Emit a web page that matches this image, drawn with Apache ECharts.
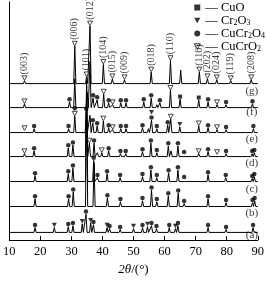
<!DOCTYPE html>
<html><head><meta charset="utf-8">
<script src="https://cdn.jsdelivr.net/npm/echarts@6/dist/echarts.min.js"></script>
<style>html,body{margin:0;padding:0;background:#fff}#c{width:267px;height:281px}</style>
</head><body><div id="c"></div>
<script>
// ---- data ----
const traceNames = ['(a)','(b)','(c)','(d)','(e)','(f)','(g)'];
const traceOffsets = [8, 35, 61, 87, 112, 138, 163];
const traceLabelLevels = [5, 28, 53, 80, 105, 133, 155];
const xTicks = [10, 20, 30, 40, 50, 60, 70, 80, 90];

// peaks: [2theta, intensity above the trace baseline]
const peaksA = [[18.3,5],[24.5,5],[29.0,6],[30.5,7],[33.5,9],[34.7,19],[36.2,10],[37.1,8],[41.5,5],[42.3,4],[45.7,3],[50.0,4],[52.9,5],[54.5,6],[55.8,7],[57.4,4],[61.5,5],[63.5,4],[64.3,7],[74.0,5],[79.8,3],[88.5,5]];
const peaksB = [[18.3,8],[29.1,8],[30.6,15],[34.9,115],[37.3,45],[41.6,9],[45.8,5],[52.9,6],[55.8,17],[57.5,5],[61.2,11],[64.4,14],[66.3,3],[74.0,8],[79.8,4],[88.3,4],[89.0,6]];
const peaksC = [[18.3,6],[29.0,8],[30.5,14],[34.9,100],[37.2,22],[38.4,4],[41.5,8],[45.7,4],[52.9,5],[55.6,12],[57.5,4],[61.3,9],[64.3,12],[66.3,2],[74.0,7],[79.7,4],[88.2,3],[88.9,5]];
const peaksD = [[14.9,3],[18.0,6],[29.0,9],[30.5,12],[34.9,80],[35.8,14],[37.3,14],[38.4,4],[39.8,4],[42.0,6],[45.8,3],[47.5,3],[52.9,5],[55.6,14],[57.5,4],[61.2,11],[62.1,6],[64.3,11],[66.3,2],[71.0,3],[74.0,5],[76.9,2],[79.8,3],[88.2,3],[88.9,4]];
const peaksE = [[14.9,2],[18.0,4],[29.1,4],[31.1,17],[34.8,22],[36.0,18],[36.9,10],[38.3,7],[40.3,12],[42.0,5],[43.3,3],[45.9,4],[47.6,4],[52.9,5],[54.8,4],[55.8,13],[57.5,4],[61.0,8],[62.0,14],[64.9,6],[71.0,7],[74.0,5],[76.9,3],[79.8,3],[88.6,4]];
const peaksF = [[14.9,4],[29.4,6],[31.1,30],[35.1,16],[36.0,48],[37.0,10],[38.3,8],[40.4,14],[42.0,5],[43.3,3],[45.9,5],[47.6,5],[53.3,6],[55.7,10],[57.5,3],[58.5,5],[61.9,18],[65.0,9],[71.0,8],[74.0,6],[76.9,3],[79.8,3],[88.3,4]];
const peaksG = [[14.9,3],[31.1,39],[34.9,7],[36.0,60],[40.3,20],[43.2,5],[47.1,4],[55.7,12],[61.9,24],[65.2,14],[71.2,12],[73.8,5],[76.8,4],[81.3,3],[87.9,4]];

// phase markers: 2theta positions per trace (a..g)
const delafMarks = [
  [], [], [], [14.9,35.8,39.8,71.0,76.9],
  [14.9,31.1,40.3,43.3,62.0,71.0,76.9],
  [14.9,40.4,43.3,61.9,76.9],
  [14.9,31.1,34.9,36.0,40.3,43.2,47.1,55.7,61.9,71.2,73.8,76.8,81.3,87.9]
];
const hklLabels = ['(003)','(006)','(101)','(012)','(104)','(015)','(009)','(018)','(110)','(116)','(202)','(024)','(119)','(208)'];
const spinelMarks = [
  [18.3,29.0,30.5,34.7,37.1,42.3,45.7,52.9,55.8,57.4,61.5,64.3,74.0,79.8,88.5],
  [18.3,29.1,30.6,41.6,45.8,52.9,55.8,57.5,61.2,64.4,66.3,74.0,79.8,88.3,89.0],
  [18.3,29.0,30.5,37.2,38.4,41.5,45.7,52.9,55.6,57.5,61.3,64.3,66.3,74.0,79.7,88.2,88.9],
  [18.0,29.0,30.5,37.3,42.0,45.8,47.5,52.9,55.6,57.5,61.2,64.3,66.3,74.0,79.8,88.2,88.9],
  [18.0,29.1,31.1,34.8,36.9,38.3,42.0,45.9,47.6,52.9,55.8,57.5,61.0,74.0,79.8,88.6],
  [29.4,37.0,38.3,42.0,45.9,47.6,53.3,55.7,58.5,74.0,79.8,88.3],
  []
];
const cr2o3Marks = [
  [24.5,33.5,36.2,41.5,50.0,54.5,63.5], [], [], [],
  [55.8,64.9], [], []
];
const cuoMarks = [[], [], [], [], [], [65.0,71.0], []];

// ---- build ----
const allPeaks = [peaksA, peaksB, peaksC, peaksD, peaksE, peaksF, peaksG];
const HALF = 0.35;
const FONT = "'Liberation Serif','DejaVu Serif',serif";
function lineData(peaks, base) {
  const d = [[10, base]];
  peaks.forEach(([t, h]) => { d.push([t - HALF, base], [t, base + h], [t + HALF, base]); });
  d.push([90, base]);
  return d;
}
function nearestPeak(i, t) {
  let best = null, bd = 1e9;
  allPeaks[i].forEach(p => { const dd = Math.abs(p[0] - t); if (dd < bd) { bd = dd; best = p; } });
  return best;
}
const stackCount = {};
function markData(marks, size, withLabels) {
  const out = [];
  marks.forEach((list, i) => {
    list.forEach((t, j) => {
      const [pt, h] = nearestPeak(i, t);
      const key = i + '_' + pt;
      const lvl = stackCount[key] || 0;
      stackCount[key] = lvl + 1;
      const y = traceOffsets[i] + h + size / 2 + 0.5 + lvl * (size + 1);
      const item = { value: [pt, y] };
      if (withLabels && i === 6) {
        item.label = { show: true, formatter: hklLabels[j], position: 'top', distance: 1, rotate: 90,
          align: 'left', verticalAlign: 'middle', fontFamily: FONT, fontSize: 10, color: '#000' };
      }
      out.push(item);
    });
  });
  return out;
}
const downTri = 'path://M0,0 L10,0 L5,9 Z';
const series = [];
allPeaks.forEach((p, i) => {
  series.push({ type: 'line', name: traceNames[i], data: lineData(p, traceOffsets[i]), symbol: 'none',
    lineStyle: { color: '#000', width: 1 }, silent: true, z: 2, animation: false });
});
series.push({ type: 'scatter', name: 'CuCrO2', symbol: downTri, symbolSize: [5, 4.5],
  itemStyle: { color: '#fff', borderColor: '#000', borderWidth: 0.9 }, data: markData(delafMarks, 4.5, true), z: 4, animation: false });
series.push({ type: 'scatter', name: 'CuCr2O4', symbol: 'circle', symbolSize: 4.5,
  itemStyle: { color: '#000' }, data: markData(spinelMarks, 4.5, false), z: 4, animation: false });
series.push({ type: 'scatter', name: 'Cr2O3', symbol: downTri, symbolSize: [5, 4.5],
  itemStyle: { color: '#000' }, data: markData(cr2o3Marks, 4.5, false), z: 4, animation: false });
series.push({ type: 'scatter', name: 'CuO', symbol: 'rect', symbolSize: 4,
  itemStyle: { color: '#000' }, data: markData(cuoMarks, 4, false), z: 4, animation: false });
series.push({ type: 'scatter', name: 'traceLabels', symbolSize: 0, silent: true, animation: false,
  data: traceLabelLevels.map((v, i) => [88.1, v]),
  label: { show: true, position: 'inside', formatter: p => traceNames[p.dataIndex], fontFamily: FONT, fontSize: 11, color: '#000' } });

const legendTexts = {
  'CuO': '— CuO',
  'Cr2O3': '— Cr{s|2}O{s|3}',
  'CuCr2O4': '— CuCr{s|2}O{s|4}',
  'CuCrO2': '— CuCrO{s|2}'
};

const chart = echarts.init(document.getElementById('c'), null, { renderer: 'canvas' });
chart.setOption({
  animation: false,
  backgroundColor: '#fff',
  grid: { left: 5, right: 4, top: 2, bottom: 31 },
  legend: {
    orient: 'vertical', right: 2, top: 1, padding: 0, itemGap: 0, itemWidth: 6, itemHeight: 6,
    selectedMode: false,
    data: [
      { name: 'CuO', icon: 'rect' },
      { name: 'Cr2O3', icon: downTri },
      { name: 'CuCr2O4', icon: 'circle' },
      { name: 'CuCrO2', icon: downTri, itemStyle: { color: '#fff', borderColor: '#000', borderWidth: 1 } }
    ],
    formatter: n => legendTexts[n],
    textStyle: { fontFamily: FONT, fontSize: 12.5, color: '#000', lineHeight: 12.3,
      rich: { s: { fontFamily: FONT, fontSize: 8, lineHeight: 12.3, padding: [5, 0, 0, 0] } } }
  },
  xAxis: {
    type: 'value', min: xTicks[0], max: xTicks[xTicks.length - 1], interval: 10,
    name: '{i|2θ}/(°)', nameLocation: 'middle', nameGap: 21,
    nameTextStyle: { fontFamily: FONT, fontSize: 13, color: '#000', rich: { i: { fontFamily: FONT, fontSize: 13, fontStyle: 'italic' } } },
    axisLine: { lineStyle: { color: '#000', width: 1 } },
    axisTick: { inside: true, length: 4, lineStyle: { color: '#000' } },
    axisLabel: { fontFamily: FONT, fontSize: 12.5, color: '#000', margin: 5 },
    splitLine: { show: false }
  },
  yAxis: {
    type: 'value', min: 0, max: 248,
    axisLine: { show: true, lineStyle: { color: '#000', width: 1 } },
    axisTick: { show: false }, axisLabel: { show: false }, splitLine: { show: false }
  },
  series: series
});
</script></body></html>
